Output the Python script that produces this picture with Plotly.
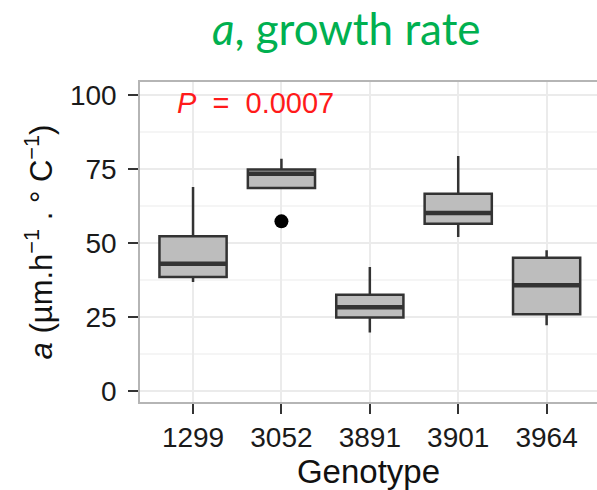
import plotly.graph_objects as go

# Genotype growth-rate summaries (five-number boxes)
genotypes = ["1299", "3052", "3891", "3901", "3964"]
lower_whisker = [36.8, 68.6, 19.7, 52.0, 22.2]
q1 = [38.5, 68.6, 24.8, 56.5, 25.9]
median = [43.0, 73.4, 28.3, 60.1, 35.7]
q3 = [52.3, 74.8, 32.5, 66.6, 45.0]
upper_whisker = [68.9, 78.5, 41.9, 79.4, 47.5]

# Outlying observations
outlier_genotype = ["3052"]
outlier_value = [57.3]

y_ticks = [0, 25, 50, 75, 100]
p_label = "<i>P</i>\u00a0\u00a0=\u00a0\u00a00.0007"

positions = list(range(1, len(genotypes) + 1))
pos_of = {g: i for g, i in zip(genotypes, positions)}
box_width = 0.76

fig = go.Figure()
fig.add_trace(go.Box(
    x=positions,
    q1=q1, median=median, q3=q3,
    lowerfence=lower_whisker, upperfence=upper_whisker,
    width=box_width,
    whiskerwidth=0,
    fillcolor="#bdbdbd",
    line=dict(color="#333333", width=2.5),
    boxpoints=False,
    showlegend=False,
    hoverinfo="skip",
))
fig.add_trace(go.Scatter(
    x=[pos_of[g] for g in outlier_genotype],
    y=outlier_value,
    mode="markers",
    marker=dict(color="black", size=14),
    showlegend=False,
    hoverinfo="skip",
))

# thicker median bars, ggplot style
for p, m in zip(positions, median):
    fig.add_shape(type="line", xref="x", yref="y",
                  x0=p - box_width / 2, x1=p + box_width / 2, y0=m, y1=m,
                  line=dict(color="#333333", width=4.5), layer="above")

fig.add_annotation(
    x=0.8, y=97.2, xref="x", yref="y", text=p_label, showarrow=False,
    xanchor="left", yanchor="middle",
    font=dict(family="Liberation Sans, Arial", size=29, color="#ff1a1a"),
)

fig.update_layout(
    width=597, height=490,
    margin=dict(l=140, r=0, t=82, b=88),
    paper_bgcolor="white", plot_bgcolor="white",
    title=dict(
        text="<i>a</i>, growth rate",
        x=0.58, xanchor="center", y=0.94, yanchor="middle",
        font=dict(family="Lato", size=44, color="#00b050"),
    ),
    font=dict(family="Liberation Sans, Arial", color="#1a1a1a"),
)
fig.update_xaxes(
    range=[0.4, 5.57],
    tickvals=positions, ticktext=genotypes,
    tickfont=dict(size=28, color="#1a1a1a"),
    ticks="outside", ticklen=10, tickwidth=1.8, tickcolor="#333333",
    showgrid=True, gridcolor="#ebebeb", gridwidth=1.5,
    showline=True, linecolor="#b5b5b5", linewidth=1.5, mirror=True,
    zeroline=False,
    title=dict(text="Genotype", font=dict(size=33, color="#111111"), standoff=2),
)
fig.update_yaxes(
    range=[-3.75, 104.4],
    tickvals=y_ticks,
    tickfont=dict(size=28, color="#1a1a1a"),
    ticks="outside", ticklen=10, tickwidth=1.8, tickcolor="#333333",
    ticklabelstandoff=6,
    showgrid=True, gridcolor="#ebebeb", gridwidth=1.5,
    minor=dict(dtick=12.5, tick0=12.5, showgrid=True, gridcolor="#f5f5f5", gridwidth=1.5, ticks=""),
    showline=True, linecolor="#b5b5b5", linewidth=1.5, mirror=False,
    zeroline=False,
    title=dict(text="<i>a</i> (µm.h<sup>−1</sup> . ° C<sup>−1</sup>)",
               font=dict(size=31, color="#111111"), standoff=8),
)

fig.write_html("out.html")
